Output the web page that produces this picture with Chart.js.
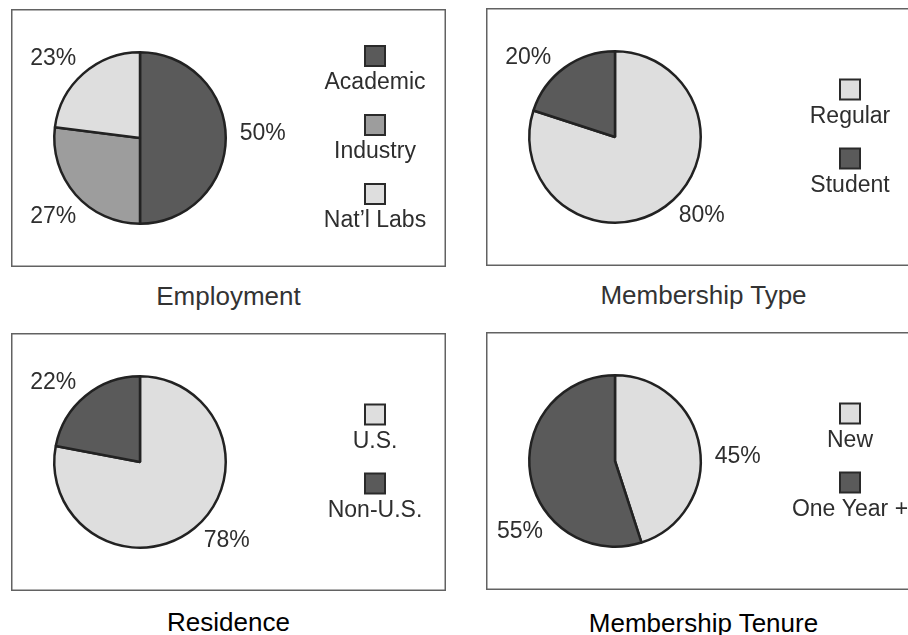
<!DOCTYPE html>
<html>
<head>
<meta charset="utf-8">
<script src="https://cdn.jsdelivr.net/npm/chart.js@4.4.1/dist/chart.umd.min.js"></script>
<style>
    body { margin: 0; background: #fff; width: 908px; height: 635px; overflow: hidden; position: relative;
           font-family: "Liberation Sans", Arial, Helvetica, sans-serif; }
    .panel { position: absolute; width: 435px; height: 258px; }
    .panel canvas { position: absolute; left: 0; top: 0; }
    .caption { position: absolute; left: 0; width: 435px; top: 272px; text-align: center; font-size: 26px; line-height: 30px; }
</style>
</head>
<body>
<div class="panel" id="p1" style="left:11px; top:9px;"><canvas id="employmentChart" width="435" height="258"></canvas><div class="caption" style="color:#333;">Employment</div></div>
<div class="panel" id="p2" style="left:486px; top:8px;"><canvas id="typeChart" width="435" height="258"></canvas><div class="caption" style="color:#333;">Membership Type</div></div>
<div class="panel" id="p3" style="left:11px; top:333px;"><canvas id="residenceChart" width="435" height="258"></canvas><div class="caption" style="color:#000; top:274px;">Residence</div></div>
<div class="panel" id="p4" style="left:486px; top:332px;"><canvas id="tenureChart" width="435" height="258"></canvas><div class="caption" style="color:#000; top:276px;">Membership Tenure</div></div>

<script>
// Shades used in the printed figure
const DARK = '#5a5a5a';
const MID = '#9d9d9d';
const LIGHT = '#dedede';

// --- Data ---
const employmentLabels = ['Academic', 'Industry', 'Nat\u2019l Labs'];
const employmentValues = [50, 27, 23];
const employmentColors = [DARK, MID, LIGHT];

const typeLabels = ['Regular', 'Student'];
const typeValues = [80, 20];
const typeColors = [LIGHT, DARK];

const residenceLabels = ['U.S.', 'Non-U.S.'];
const residenceValues = [78, 22];
const residenceColors = [LIGHT, DARK];

const tenureLabels = ['New', 'One Year +'];
const tenureValues = [45, 55];
const tenureColors = [LIGHT, DARK];

const FONT = '"Liberation Sans", Arial, Helvetica, sans-serif';

// Frame, outside percent labels and the stacked legend (swatch above its text)
const pieExtras = {
    id: 'pieExtras',
    afterDraw(chart) {
        const ctx = chart.ctx;
        const meta = chart.getDatasetMeta(0);
        const ds = chart.data.datasets[0];
        ctx.save();

        ctx.strokeStyle = '#626262';
        ctx.lineWidth = 1.5;
        ctx.strokeRect(0.75, 0.75, chart.width - 1.5, chart.height - 1.5);

        ctx.font = '23px ' + FONT;
        ctx.fillStyle = '#2e2e2e';
        ctx.textAlign = 'center';
        ctx.textBaseline = 'middle';
        meta.data.forEach((arc, i) => {
            // labels sit at the nearest of 8 compass points on an ellipse round the pie,
            // slid along it if they would cross the frame
            const mid = (arc.startAngle + arc.endAngle) / 2;
            const snapped = Math.round(mid / (Math.PI / 4)) * (Math.PI / 4);
            const Rx = arc.outerRadius + 37;
            const Ry = arc.outerRadius + 26;
            const text = ds.data[i] + '%';
            const w = ctx.measureText(text).width;
            let dx = Math.cos(snapped) * Rx;
            let dy = Math.sin(snapped) * Ry;
            const minX = 11 + w / 2 - arc.x;
            const maxX = chart.width - 11 - w / 2 - arc.x;
            if (dx < minX || dx > maxX) {
                dx = dx < minX ? minX : maxX;
                dy = Math.sign(Math.sin(mid)) * Ry * Math.sqrt(Math.max(1 - (dx / Rx) * (dx / Rx), 0));
            }
            if (Math.abs(dy) < 1) dy = -4;
            ctx.fillText(text, arc.x + dx, arc.y + dy);
        });

        // legend
        const n = chart.data.labels.length;
        const step = 69;
        const legendX = 364;
        const y0 = 140.5 - n * step / 2;
        chart.data.labels.forEach((label, i) => {
            const top = y0 + i * step;
            ctx.fillStyle = ds.backgroundColor[i];
            ctx.fillRect(legendX - 10, top, 20, 20);
            ctx.strokeStyle = '#2a2a2a';
            ctx.lineWidth = 2;
            ctx.strokeRect(legendX - 10, top, 20, 20);
            ctx.fillStyle = '#2e2e2e';
            ctx.fillText(label, legendX, top + 37);
        });
        ctx.restore();
    }
};

function renderPie(canvasId, labels, values, colors) {
    const ctx = document.getElementById(canvasId).getContext('2d');
    return new Chart(ctx, {
        type: 'pie',
        data: {
            labels: labels,
            datasets: [{
                data: values,
                backgroundColor: colors,
                borderColor: '#222',
                borderWidth: 2.5
            }]
        },
        options: {
            responsive: false,
            animation: false,
            layout: { padding: { left: 42, top: 42, right: 219, bottom: 42 } },
            plugins: {
                legend: { display: false },
                tooltip: { enabled: false }
            }
        },
        plugins: [pieExtras]
    });
}

renderPie('employmentChart', employmentLabels, employmentValues, employmentColors);
renderPie('typeChart', typeLabels, typeValues, typeColors);
renderPie('residenceChart', residenceLabels, residenceValues, residenceColors);
renderPie('tenureChart', tenureLabels, tenureValues, tenureColors);
</script>
</body>
</html>
